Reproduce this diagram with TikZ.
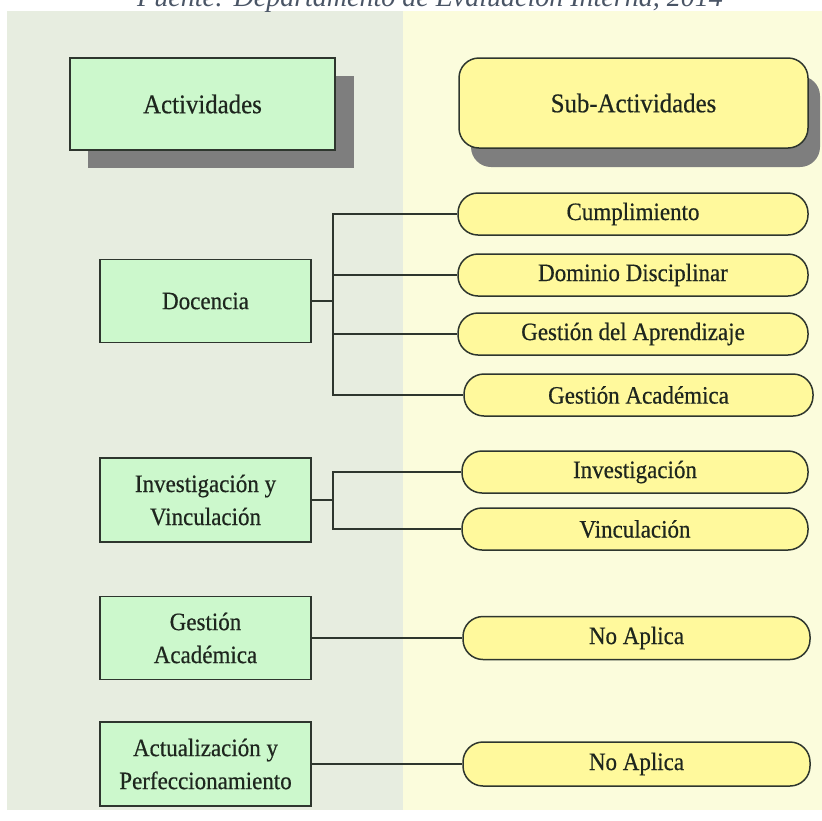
\documentclass[tikz,border=0pt]{standalone}
\usepackage{fontspec}
\setmainfont{Liberation Serif}
\newfontfamily\boxfont[FakeBold=0.5,FakeStretch=0.92]{Liberation Serif}
\definecolor{leftbg}{HTML}{E7EDE0}
\definecolor{rightbg}{HTML}{FBFCDC}
\definecolor{boxgreen}{HTML}{CCF8CC}
\definecolor{pillyellow}{HTML}{FFF99C}
\definecolor{edgecol}{HTML}{2E362E}
\definecolor{shadowgray}{HTML}{7E7E7E}
\definecolor{captxt}{HTML}{4A5566}
\definecolor{textdark}{HTML}{1E261E}
\begin{document}
\begin{tikzpicture}[x=1pt,y=-1pt,
  actbox/.style={draw=edgecol, line width=1.5pt, fill=boxgreen, inner sep=0pt, align=center,
    font=\boxfont\fontsize{25}{33}\selectfont, text=textdark, minimum width=211pt},
  headbox/.style={draw=edgecol, line width=1.5pt, inner sep=0pt, align=center,
    font=\boxfont\fontsize{27}{30}\selectfont, text=textdark},
  pill/.style={draw=edgecol, line width=1.5pt, fill=pillyellow, rounded corners=20pt, inner sep=0pt,
    align=center, font=\boxfont\fontsize{25}{30}\selectfont, text=textdark, minimum height=42pt},
  link/.style={draw=edgecol, line width=1.5pt}]
\useasboundingbox (0,0) rectangle (822,820);
\fill[white] (0,0) rectangle (822,820);
% background panels
\fill[leftbg] (7,11) rectangle (403,810);
\fill[rightbg] (403,11) rectangle (822,810);
% caption (cut at top, as in the source)
\node[font=\fontsize{28}{30}\selectfont\itshape, text=captxt, anchor=base] (cap) at (430,6)
  {Fuente: Departamento de Evaluación Interna, 2014};
% header shadows
\fill[shadowgray] (88,76) rectangle (354,168);
\fill[shadowgray, rounded corners=20pt] (471,76) rectangle (820,167);
% headers
\node[headbox, fill=boxgreen, minimum width=265pt, minimum height=92pt] (act) at (202.5,104) {Actividades};
\node[headbox, fill=pillyellow, rounded corners=20pt, minimum width=349pt, minimum height=90pt] (sub) at (633.5,103) {Sub-Actividades};
% left boxes
\node[actbox, minimum height=83pt] (doc) at (205.5,301) {Docencia};
\node[actbox, minimum height=84pt] (inv) at (205.5,500) {Investigación y\\Vinculación};
\node[actbox, minimum height=83pt] (gest) at (205.5,638) {Gestión\\Académica};
\node[actbox, minimum height=84pt] (actu) at (205.5,764) {Actualización y\\Perfeccionamiento};
% pills
\node[pill, minimum width=350pt] (cump) at (633,214) {Cumplimiento};
\node[pill, minimum width=350pt] (dom) at (633,275) {Dominio Disciplinar};
\node[pill, minimum width=350pt] (gap) at (633,334) {Gestión del Aprendizaje};
\node[pill, minimum width=349pt] (gac) at (638.5,395) {Gestión Académica};
\node[pill, minimum width=346pt] (pinv) at (635,472) {Investigación};
\node[pill, minimum width=346pt] (pvin) at (635,529) {Vinculación};
\node[pill, minimum width=347pt, minimum height=43pt] (na1) at (636.5,638) {No Aplica};
\node[pill, minimum width=347pt, minimum height=44pt] (na2) at (636.5,764) {No Aplica};
% connectors
\coordinate (t1) at (333,301);
\coordinate (t2) at (333,500);
\draw[link] (doc.east) -- (t1);
\draw[link] (cump.west) -- (t1 |- cump.west) -- (t1 |- gac.west) -- (gac.west);
\draw[link] (t1 |- dom.west) -- (dom.west);
\draw[link] (t1 |- gap.west) -- (gap.west);
\draw[link] (inv.east) -- (t2);
\draw[link] (pinv.west) -- (t2 |- pinv.west) -- (t2 |- pvin.west) -- (pvin.west);
\draw[link] (gest.east) -- (na1.west);
\draw[link] (actu.east) -- (na2.west);
\end{tikzpicture}
\end{document}
